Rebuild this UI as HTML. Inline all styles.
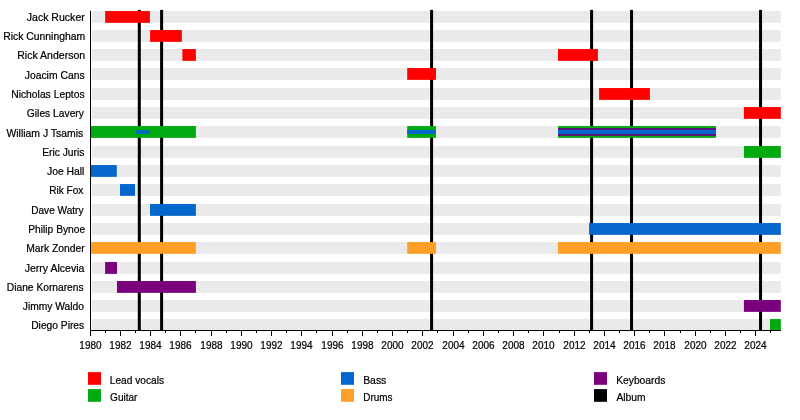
<!DOCTYPE html>
<html lang="en"><head><meta charset="utf-8"><title>Timeline</title>
<style>html,body{margin:0;padding:0;background:#fff}body{width:800px;height:420px;overflow:hidden}svg{display:block}text{font-family:"Liberation Sans",Arial,Helvetica,sans-serif;fill:#000;stroke:#000;stroke-width:0.22px}.n{font-size:10.9px}.y{font-size:10.5px;text-anchor:middle}.l{font-size:10.9px}</style></head><body>
<svg width="800" height="420" viewBox="0 0 800 420">
<rect width="800" height="420" fill="#fff"/>
<rect x="91.90" y="11.05" width="688.90" height="11.80" fill="#eaeaea"/>
<rect x="91.90" y="30.05" width="688.90" height="11.80" fill="#eaeaea"/>
<rect x="91.90" y="49.05" width="688.90" height="11.80" fill="#eaeaea"/>
<rect x="91.90" y="68.05" width="688.90" height="11.80" fill="#eaeaea"/>
<rect x="91.90" y="88.05" width="688.90" height="11.80" fill="#eaeaea"/>
<rect x="91.90" y="107.05" width="688.90" height="11.80" fill="#eaeaea"/>
<rect x="91.90" y="126.05" width="688.90" height="11.80" fill="#eaeaea"/>
<rect x="91.90" y="146.05" width="688.90" height="11.80" fill="#eaeaea"/>
<rect x="91.90" y="165.05" width="688.90" height="11.80" fill="#eaeaea"/>
<rect x="91.90" y="184.05" width="688.90" height="11.80" fill="#eaeaea"/>
<rect x="91.90" y="204.05" width="688.90" height="11.80" fill="#eaeaea"/>
<rect x="91.90" y="223.05" width="688.90" height="11.80" fill="#eaeaea"/>
<rect x="91.90" y="242.05" width="688.90" height="11.80" fill="#eaeaea"/>
<rect x="91.90" y="262.05" width="688.90" height="11.80" fill="#eaeaea"/>
<rect x="91.90" y="281.05" width="688.90" height="11.80" fill="#eaeaea"/>
<rect x="91.90" y="300.05" width="688.90" height="11.80" fill="#eaeaea"/>
<rect x="91.90" y="319.05" width="688.90" height="11.80" fill="#eaeaea"/>
<rect x="137.80" y="9.90" width="3" height="320.50" fill="#000"/>
<rect x="160.10" y="9.90" width="3" height="320.50" fill="#000"/>
<rect x="430.10" y="9.90" width="3" height="320.50" fill="#000"/>
<rect x="590.10" y="9.90" width="3" height="320.50" fill="#000"/>
<rect x="630.05" y="9.90" width="3" height="320.50" fill="#000"/>
<rect x="759.05" y="9.90" width="3" height="320.50" fill="#000"/>
<rect x="105.15" y="11.05" width="44.75" height="11.80" fill="#ff0000"/>
<rect x="150.10" y="30.05" width="31.75" height="11.80" fill="#ff0000"/>
<rect x="182.40" y="49.05" width="13.50" height="11.80" fill="#ff0000"/>
<rect x="558.00" y="49.05" width="39.90" height="11.80" fill="#ff0000"/>
<rect x="407.20" y="68.05" width="28.80" height="11.80" fill="#ff0000"/>
<rect x="599.10" y="88.05" width="50.80" height="11.80" fill="#ff0000"/>
<rect x="743.90" y="107.05" width="36.90" height="11.80" fill="#ff0000"/>
<rect x="90.00" y="126.05" width="105.90" height="11.80" fill="#00aa10"/>
<rect x="135.60" y="130.15" width="14.30" height="3.60" fill="#0566cb"/>
<rect x="407.20" y="126.05" width="28.70" height="11.80" fill="#00aa10"/>
<rect x="407.20" y="129.95" width="28.70" height="4.00" fill="#0566cb"/>
<rect x="558.00" y="126.05" width="157.90" height="11.80" fill="#00aa10"/>
<rect x="558.00" y="128.05" width="157.90" height="7.80" fill="#600878"/>
<rect x="558.00" y="129.85" width="157.90" height="4.20" fill="#0566cb"/>
<rect x="743.90" y="146.05" width="36.90" height="11.80" fill="#00aa10"/>
<rect x="90.00" y="165.05" width="26.80" height="11.80" fill="#0566cb"/>
<rect x="120.00" y="184.05" width="15.00" height="11.80" fill="#0566cb"/>
<rect x="150.00" y="204.05" width="45.90" height="11.80" fill="#0566cb"/>
<rect x="589.05" y="223.05" width="191.75" height="11.80" fill="#0566cb"/>
<rect x="90.00" y="242.05" width="105.90" height="11.80" fill="#ff9f28"/>
<rect x="407.20" y="242.05" width="28.80" height="11.80" fill="#ff9f28"/>
<rect x="558.00" y="242.05" width="222.80" height="11.80" fill="#ff9f28"/>
<rect x="105.10" y="262.05" width="11.90" height="11.80" fill="#7a007e"/>
<rect x="117.00" y="281.05" width="78.90" height="11.80" fill="#7a007e"/>
<rect x="743.90" y="300.05" width="36.90" height="11.80" fill="#7a007e"/>
<rect x="770.00" y="319.05" width="10.80" height="11.80" fill="#00aa10"/>
<rect x="90.00" y="10.80" width="1" height="320.20" fill="#000"/>
<rect x="90.00" y="330.00" width="690.80" height="1" fill="#000"/>
<rect x="90.00" y="330.50" width="1" height="5.5" fill="#000"/>
<text class="y" transform="translate(90.50 348.5) scale(0.9535 1)">1980</text>
<rect x="105.00" y="330.50" width="1" height="2.5" fill="#000"/>
<rect x="120.00" y="330.50" width="1" height="5.5" fill="#000"/>
<text class="y" transform="translate(120.50 348.5) scale(0.9535 1)">1982</text>
<rect x="135.00" y="330.50" width="1" height="2.5" fill="#000"/>
<rect x="150.00" y="330.50" width="1" height="5.5" fill="#000"/>
<text class="y" transform="translate(150.50 348.5) scale(0.9535 1)">1984</text>
<rect x="165.00" y="330.50" width="1" height="2.5" fill="#000"/>
<rect x="180.00" y="330.50" width="1" height="5.5" fill="#000"/>
<text class="y" transform="translate(180.50 348.5) scale(0.9535 1)">1986</text>
<rect x="195.00" y="330.50" width="1" height="2.5" fill="#000"/>
<rect x="211.00" y="330.50" width="1" height="5.5" fill="#000"/>
<text class="y" transform="translate(211.50 348.5) scale(0.9535 1)">1988</text>
<rect x="226.00" y="330.50" width="1" height="2.5" fill="#000"/>
<rect x="241.00" y="330.50" width="1" height="5.5" fill="#000"/>
<text class="y" transform="translate(241.50 348.5) scale(0.9535 1)">1990</text>
<rect x="256.00" y="330.50" width="1" height="2.5" fill="#000"/>
<rect x="271.00" y="330.50" width="1" height="5.5" fill="#000"/>
<text class="y" transform="translate(271.50 348.5) scale(0.9535 1)">1992</text>
<rect x="286.00" y="330.50" width="1" height="2.5" fill="#000"/>
<rect x="301.00" y="330.50" width="1" height="5.5" fill="#000"/>
<text class="y" transform="translate(301.50 348.5) scale(0.9535 1)">1994</text>
<rect x="316.00" y="330.50" width="1" height="2.5" fill="#000"/>
<rect x="332.00" y="330.50" width="1" height="5.5" fill="#000"/>
<text class="y" transform="translate(332.50 348.5) scale(0.9535 1)">1996</text>
<rect x="347.00" y="330.50" width="1" height="2.5" fill="#000"/>
<rect x="362.00" y="330.50" width="1" height="5.5" fill="#000"/>
<text class="y" transform="translate(362.50 348.5) scale(0.9535 1)">1998</text>
<rect x="377.00" y="330.50" width="1" height="2.5" fill="#000"/>
<rect x="392.00" y="330.50" width="1" height="5.5" fill="#000"/>
<text class="y" transform="translate(392.50 348.5) scale(0.9535 1)">2000</text>
<rect x="407.00" y="330.50" width="1" height="2.5" fill="#000"/>
<rect x="422.00" y="330.50" width="1" height="5.5" fill="#000"/>
<text class="y" transform="translate(422.50 348.5) scale(0.9535 1)">2002</text>
<rect x="437.00" y="330.50" width="1" height="2.5" fill="#000"/>
<rect x="453.00" y="330.50" width="1" height="5.5" fill="#000"/>
<text class="y" transform="translate(453.50 348.5) scale(0.9535 1)">2004</text>
<rect x="468.00" y="330.50" width="1" height="2.5" fill="#000"/>
<rect x="483.00" y="330.50" width="1" height="5.5" fill="#000"/>
<text class="y" transform="translate(483.50 348.5) scale(0.9535 1)">2006</text>
<rect x="498.00" y="330.50" width="1" height="2.5" fill="#000"/>
<rect x="513.00" y="330.50" width="1" height="5.5" fill="#000"/>
<text class="y" transform="translate(513.50 348.5) scale(0.9535 1)">2008</text>
<rect x="528.00" y="330.50" width="1" height="2.5" fill="#000"/>
<rect x="543.00" y="330.50" width="1" height="5.5" fill="#000"/>
<text class="y" transform="translate(543.50 348.5) scale(0.9535 1)">2010</text>
<rect x="559.00" y="330.50" width="1" height="2.5" fill="#000"/>
<rect x="574.00" y="330.50" width="1" height="5.5" fill="#000"/>
<text class="y" transform="translate(574.50 348.5) scale(0.9535 1)">2012</text>
<rect x="589.00" y="330.50" width="1" height="2.5" fill="#000"/>
<rect x="604.00" y="330.50" width="1" height="5.5" fill="#000"/>
<text class="y" transform="translate(604.50 348.5) scale(0.9535 1)">2014</text>
<rect x="619.00" y="330.50" width="1" height="2.5" fill="#000"/>
<rect x="634.00" y="330.50" width="1" height="5.5" fill="#000"/>
<text class="y" transform="translate(634.50 348.5) scale(0.9535 1)">2016</text>
<rect x="649.00" y="330.50" width="1" height="2.5" fill="#000"/>
<rect x="664.00" y="330.50" width="1" height="5.5" fill="#000"/>
<text class="y" transform="translate(664.50 348.5) scale(0.9535 1)">2018</text>
<rect x="680.00" y="330.50" width="1" height="2.5" fill="#000"/>
<rect x="695.00" y="330.50" width="1" height="5.5" fill="#000"/>
<text class="y" transform="translate(695.50 348.5) scale(0.9535 1)">2020</text>
<rect x="710.00" y="330.50" width="1" height="2.5" fill="#000"/>
<rect x="725.00" y="330.50" width="1" height="5.5" fill="#000"/>
<text class="y" transform="translate(725.50 348.5) scale(0.9535 1)">2022</text>
<rect x="740.00" y="330.50" width="1" height="2.5" fill="#000"/>
<rect x="755.00" y="330.50" width="1" height="5.5" fill="#000"/>
<text class="y" transform="translate(755.50 348.5) scale(0.9535 1)">2024</text>
<rect x="770.00" y="330.50" width="1" height="2.5" fill="#000"/>
<text class="n" transform="translate(26.74 20.60) scale(0.9684 1)">Jack Rucker</text>
<text class="n" transform="translate(3.19 39.75) scale(0.9537 1)">Rick Cunningham</text>
<text class="n" transform="translate(17.17 58.75) scale(0.9684 1)">Rick Anderson</text>
<text class="n" transform="translate(24.75 78.75) scale(0.9500 1)">Joacim Cans</text>
<text class="n" transform="translate(11.20 97.75) scale(0.9477 1)">Nicholas Leptos</text>
<text class="n" transform="translate(26.86 116.90) scale(0.9426 1)">Giles Lavery</text>
<text class="n" transform="translate(6.44 136.90) scale(0.9582 1)">William J Tsamis</text>
<text class="n" transform="translate(42.20 156.00) scale(0.9441 1)">Eric Juris</text>
<text class="n" transform="translate(46.97 175.00) scale(0.9523 1)">Joe Hall</text>
<text class="n" transform="translate(49.23 193.75) scale(0.9243 1)">Rik Fox</text>
<text class="n" transform="translate(31.24 213.75) scale(0.9245 1)">Dave Watry</text>
<text class="n" transform="translate(28.20 232.60) scale(0.9412 1)">Philip Bynoe</text>
<text class="n" transform="translate(26.19 251.90) scale(0.9484 1)">Mark Zonder</text>
<text class="n" transform="translate(24.74 271.60) scale(0.9650 1)">Jerry Alcevia</text>
<text class="n" transform="translate(6.81 290.60) scale(0.9399 1)">Diane Kornarens</text>
<text class="n" transform="translate(22.77 310.00) scale(0.9427 1)">Jimmy Waldo</text>
<text class="n" transform="translate(31.21 329.40) scale(0.9409 1)">Diego Pires</text>
<rect x="88" y="372.1" width="13" height="12.7" fill="#ff0000"/>
<text class="l" transform="translate(109.81 383.90) scale(0.9343 1)">Lead vocals</text>
<rect x="88" y="389.1" width="13" height="12.7" fill="#00aa10"/>
<text class="l" transform="translate(110.07 400.60) scale(0.9237 1)">Guitar</text>
<rect x="341" y="372.1" width="13" height="12.7" fill="#0566cb"/>
<text class="l" transform="translate(363.15 383.90) scale(0.9586 1)">Bass</text>
<rect x="341" y="389.1" width="13" height="12.7" fill="#ff9f28"/>
<text class="l" transform="translate(363.24 400.60) scale(0.9105 1)">Drums</text>
<rect x="594" y="372.1" width="13" height="12.7" fill="#7a007e"/>
<text class="l" transform="translate(616.21 383.90) scale(0.9429 1)">Keyboards</text>
<rect x="594" y="389.1" width="13" height="12.7" fill="#000000"/>
<text class="l" transform="translate(616.41 400.60) scale(0.9444 1)">Album</text>
</svg></body></html>
